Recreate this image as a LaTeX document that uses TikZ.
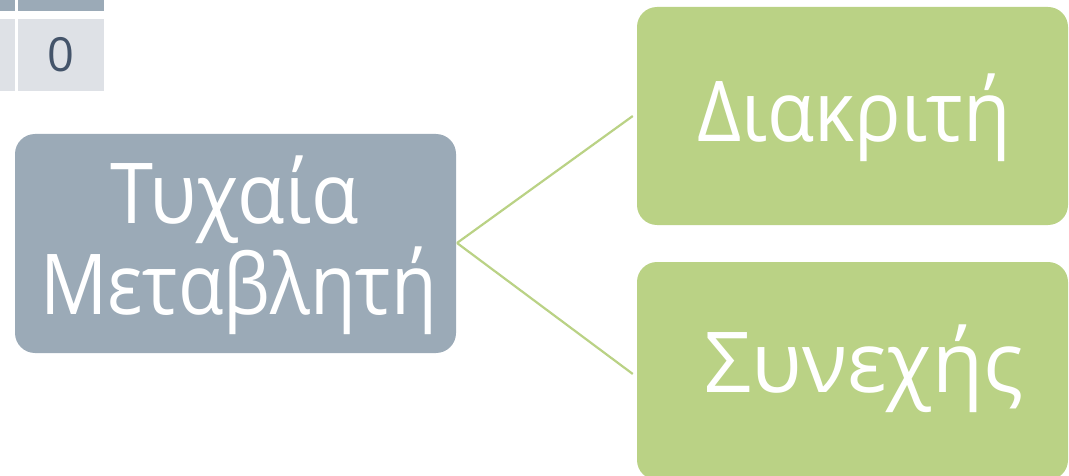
\documentclass[tikz,border=0pt]{standalone}
\usepackage{fontspec}
\setmainfont{Open Sans}
\definecolor{slate}{HTML}{9BAAB7}
\definecolor{leaf}{HTML}{BAD285}
\definecolor{cellgray}{HTML}{DEE1E6}
\definecolor{ink}{HTML}{44546A}
\tikzset{
  mainbox/.style={fill=slate, rounded corners=20pt, inner sep=0pt},
  leafbox/.style={fill=leaf, rounded corners=20pt, inner sep=0pt},
  bigtext/.style={text=white, font=\fontsize{84}{91}\selectfont, inner sep=0pt},
  link/.style={draw=leaf, line width=2.2pt}
}
\begin{document}
\begin{tikzpicture}[x=1pt,y=-1pt]
\useasboundingbox (0,0) rectangle (1069,476);
\clip (0,0) rectangle (1069,476);
% table fragment
\fill[slate] (-5,-5) rectangle (15,11);
\fill[slate] (18,-5) rectangle (104,11);
\fill[cellgray] (-5,19) rectangle (15,91);
\fill[cellgray] (18,19) rectangle (104,91);
\node[text=ink, font=\fontsize{47}{56}\selectfont, inner sep=0pt] (zero) at (61,55) {0};
% boxes
\node[mainbox, minimum width=441pt, minimum height=219pt] (rv) at (235.5,243.5) {};
\node[bigtext, anchor=base] (rvt1) at (234.5,223) {\scalebox{0.925}[1]{Τυχαία}};
\node[bigtext, anchor=base] (rvt2) at (238.5,314) {\scalebox{0.887}[1]{Μεταβλητή}};
\node[leafbox, minimum width=431pt, minimum height=218pt] (disc) at (852.5,116) {};
\node[bigtext, anchor=base] (disct) at (854,142) {\scalebox{0.92}[1]{Διακριτή}};
\node[leafbox, minimum width=431pt, minimum height=218pt] (cont) at (852.5,371) {};
\node[bigtext, anchor=base] (contt) at (864,392) {\scalebox{0.99}[1]{Συνεχής}};
% connectors
\coordinate (j) at (457,243);
\draw[link] (j) -- ([xshift=-4pt]disc.west);
\draw[link] (j) -- ([xshift=-4pt,yshift=-3pt]cont.west);
\end{tikzpicture}
\end{document}
